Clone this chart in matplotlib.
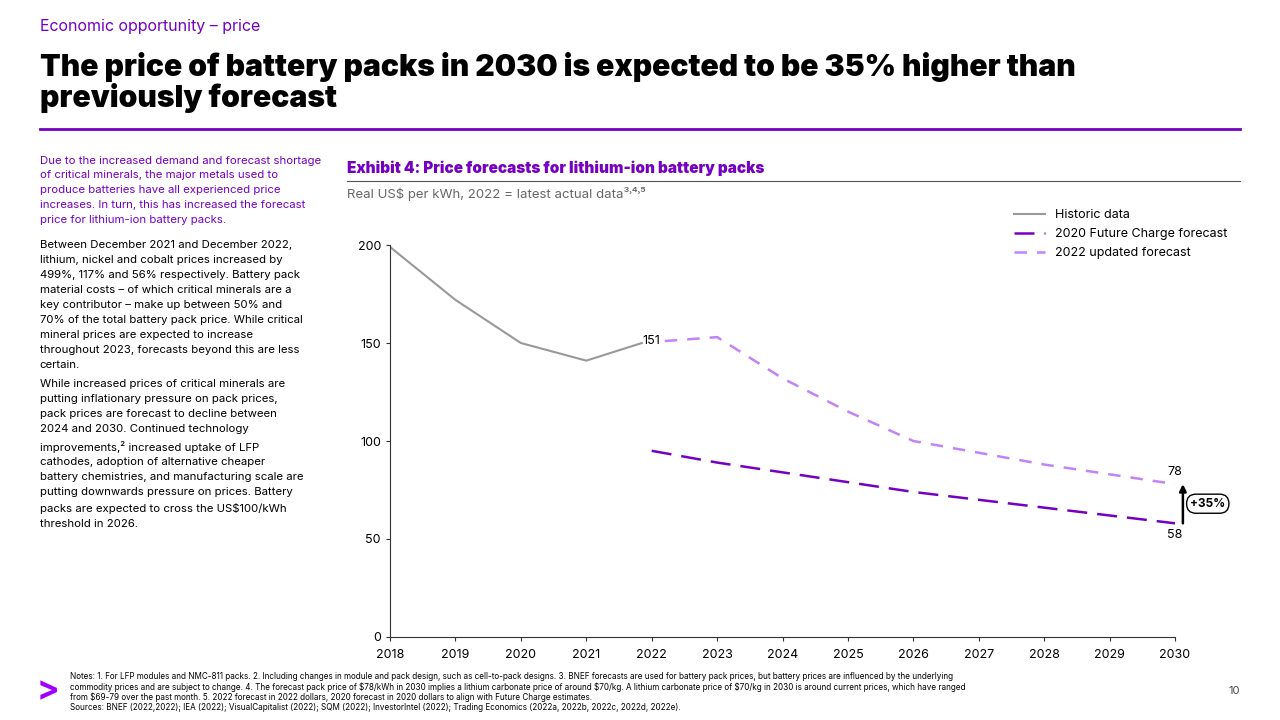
import matplotlib.pyplot as plt
import matplotlib.lines as mlines

plt.rcParams['font.family'] = ['Inter', 'DejaVu Sans']

PURPLE = '#7500C0'
LIGHT = '#C183F5'
GREY = '#999999'

years = [2018, 2019, 2020, 2021, 2022, 2023, 2024, 2025, 2026, 2027, 2028, 2029, 2030]
hist_years = [2018, 2019, 2020, 2021, 2021.85]
hist_vals = [199, 172, 150, 141, 150]
fc_years = [2022, 2023, 2024, 2025, 2026, 2027, 2028, 2029, 2030]
fc2020_vals = [95, 89, 84, 79, 74, 70, 66, 62, 58]
fc2022_years = [2022.2, 2023, 2024, 2025, 2026, 2027, 2028, 2029, 2030]
fc2022_vals = [151, 153, 132, 115, 100, 94, 88, 83, 78]

fig = plt.figure(figsize=(12.8, 7.2), dpi=100)

# header
fig.text(0.031, 0.963, 'Economic opportunity \u2013 price', color=PURPLE, fontsize=11.5, va='center')
fig.text(0.031, 0.885, 'The price of battery packs in 2030 is expected to be 35% higher than\npreviously forecast',
         fontsize=21.7, fontweight='black', va='center', linespacing=1.05)
fig.add_artist(mlines.Line2D([0.031, 0.969], [0.821, 0.821], color=PURPLE, lw=2))

# left text
fs = 8.2
ls = 1.62
fig.text(0.031, 0.784, 'Due to the increased demand and forecast shortage\nof critical minerals, the major metals used to\n'
         'produce batteries have all experienced price\nincreases. In turn, this has increased the forecast\n'
         'price for lithium-ion battery packs.', color=PURPLE, fontsize=fs, va='top', linespacing=ls)
fig.text(0.031, 0.666, 'Between December 2021 and December 2022,\nlithium, nickel and cobalt prices increased by\n'
         '499%, 117% and 56% respectively. Battery pack\nmaterial costs \u2013 of which critical minerals are a\n'
         'key contributor \u2013 make up between 50% and\n70% of the total battery pack price. While critical\n'
         'mineral prices are expected to increase\nthroughout 2023, forecasts beyond this are less\ncertain.',
         fontsize=fs, va='top', linespacing=ls)
fig.text(0.031, 0.473, 'While increased prices of critical minerals are\nputting inflationary pressure on pack prices,\n'
         'pack prices are forecast to decline between\n2024 and 2030. Continued technology\n'
         'improvements,\u00b2 increased uptake of LFP\ncathodes, adoption of alternative cheaper\n'
         'battery chemistries, and manufacturing scale are\nputting downwards pressure on prices. Battery\n'
         'packs are expected to cross the US$100/kWh\nthreshold in 2026.',
         fontsize=fs, va='top', linespacing=ls)

# exhibit header
fig.text(0.271, 0.766, 'Exhibit 4: Price forecasts for lithium-ion battery packs', color=PURPLE,
         fontsize=11, fontweight='black', va='center')
fig.add_artist(mlines.Line2D([0.271, 0.969], [0.748, 0.748], color='#555555', lw=0.8))
fig.text(0.271, 0.730, 'Real US$ per kWh, 2022 = latest actual data\u00b3\u02d2\u2074\u02d2\u2075', color='#666666',
         fontsize=9.5, va='center')

ax = fig.add_axes([0.3047, 0.1153, 0.6133, 0.5444])
ax.plot(hist_years, hist_vals, color=GREY, lw=1.5, label='Historic data')
ax.plot(fc_years, fc2020_vals, color=PURPLE, lw=1.8, dashes=(8, 4), label='2020 Future Charge forecast')
ax.plot(fc2022_years, fc2022_vals, color=LIGHT, lw=1.8, dashes=(5, 4), label='2022 updated forecast')
ax.set_xlim(2018, 2030)
ax.set_ylim(0, 200)
ax.set_xticks(years)
ax.set_yticks([0, 50, 100, 150, 200])
ax.tick_params(labelsize=9, length=3, color='#333333')
ax.tick_params(axis='x', pad=6)
for s in ['top', 'right']:
    ax.spines[s].set_visible(False)
ax.spines['left'].set_color('#333333')
ax.spines['bottom'].set_color('#333333')
ax.text(2022, 151, '151', fontsize=9, ha='center', va='center')
ax.text(2030, 78 + 3, '78', fontsize=9, ha='center', va='bottom')
ax.text(2030, 58 - 3, '58', fontsize=9, ha='center', va='top')
ax.annotate('', xy=(2030.12, 78), xytext=(2030.12, 58),
            arrowprops=dict(arrowstyle='-|>', color='black', lw=1.8, shrinkA=0, shrinkB=0),
            annotation_clip=False)
ax.text(2030.5, 68, '+35%', fontsize=8.5, fontweight='bold', ha='center', va='center',
        bbox=dict(boxstyle='round,pad=0.3,rounding_size=0.8', fc='white', ec='black', lw=1),
        clip_on=False)
ax.legend(loc='upper left', bbox_to_anchor=(0.78, 1.12), frameon=False, fontsize=9,
          handlelength=2.5, labelspacing=0.55)

# footer
fig.text(0.029, 0.04, '>', color='#A100FF', fontsize=24, fontweight='bold', va='center')
fig.text(0.055, 0.039, 'Notes: 1. For LFP modules and NMC-811 packs. 2. Including changes in module and pack design, such as cell-to-pack designs. 3. BNEF forecasts are used for battery pack prices, but battery prices are influenced by the underlying\n'
         'commodity prices and are subject to change. 4. The forecast pack price of \\$78/kWh in 2030 implies a lithium carbonate price of around \\$70/kg. A lithium carbonate price of \\$70/kg in 2030 is around current prices, which have ranged\n'
         'from \\$69-79 over the past month. 5. 2022 forecast in 2022 dollars, 2020 forecast in 2020 dollars to align with Future Charge estimates.\n'
         'Sources: BNEF (2022,2022); IEA (2022); VisualCapitalist (2022); SQM (2022); InvestorIntel (2022); Trading Economics (2022a, 2022b, 2022c, 2022d, 2022e).',
         fontsize=5.85, va='center', linespacing=1.12)
fig.text(0.969, 0.04, '10', fontsize=8, color='#444444', ha='right', va='center')

fig.savefig('out.png', dpi=100)
